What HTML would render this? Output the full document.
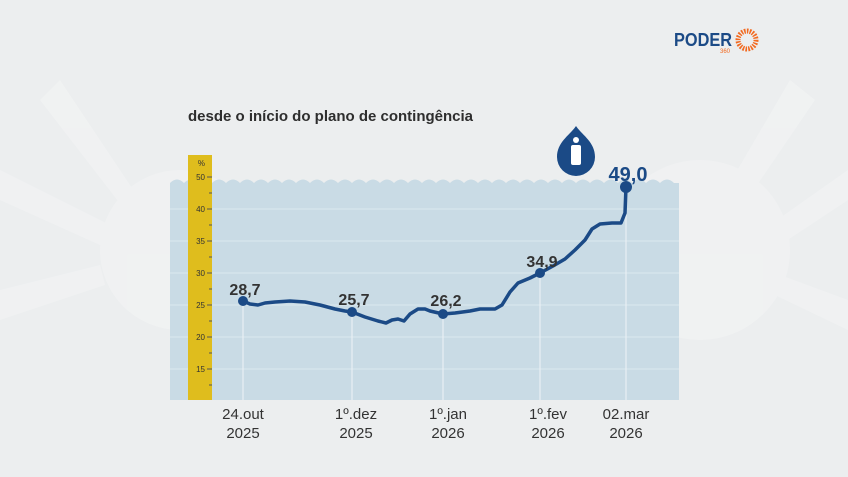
<!DOCTYPE html>
<html><head><meta charset="utf-8"><style>
html,body{margin:0;padding:0;background:#eceeef;}
svg{display:block;font-family:"Liberation Sans",Arial,sans-serif;}
</style></head><body>
<svg width="848" height="477" viewBox="0 0 848 477">
<rect width="848" height="477" fill="#eceeef"/>
<g fill="#f2f3f4" opacity="0.7">
<circle cx="180" cy="250" r="80"/>
<circle cx="700" cy="250" r="90"/>
<polygon points="0,170 110,225 100,245 0,200"/>
<polygon points="0,290 100,265 105,285 0,320"/>
<polygon points="60,80 140,200 125,210 40,100"/>
<polygon points="790,80 720,200 740,210 815,100"/>
<polygon points="848,170 770,225 780,245 848,200"/>
<polygon points="848,300 780,275 775,295 848,330"/>
</g>
<text x="188" y="121" font-size="15" font-weight="bold" fill="#2e2e2e">desde o início do plano de contingência</text>
<path d="M170,183 q7,-7 14,0 q7,-7 14,0 q7,-7 14,0 q7,-7 14,0 q7,-7 14,0 q7,-7 14,0 q7,-7 14,0 q7,-7 14,0 q7,-7 14,0 q7,-7 14,0 q7,-7 14,0 q7,-7 14,0 q7,-7 14,0 q7,-7 14,0 q7,-7 14,0 q7,-7 14,0 q7,-7 14,0 q7,-7 14,0 q7,-7 14,0 q7,-7 14,0 q7,-7 14,0 q7,-7 14,0 q7,-7 14,0 q7,-7 14,0 q7,-7 14,0 q7,-7 14,0 q7,-7 14,0 q7,-7 14,0 q7,-7 14,0 q7,-7 14,0 q7,-7 14,0 q7,-7 14,0 q7,-7 14,0 q7,-7 14,0 q7,-7 14,0 q7,-7 14,0 L679,183 L679,400 L170,400 Z" fill="#c9dbe5"/>
<g stroke="#dce8ef" stroke-width="1">
<line x1="170" y1="209" x2="679" y2="209"/><line x1="170" y1="241" x2="679" y2="241"/>
<line x1="170" y1="273" x2="679" y2="273"/><line x1="170" y1="305" x2="679" y2="305"/>
<line x1="170" y1="337" x2="679" y2="337"/><line x1="170" y1="369" x2="679" y2="369"/>
</g>
<g stroke="#eef3f6" stroke-width="1">
<line x1="243" y1="301" x2="243" y2="400"/><line x1="352" y1="312" x2="352" y2="400"/>
<line x1="443" y1="314" x2="443" y2="400"/><line x1="540" y1="273" x2="540" y2="400"/>
<line x1="626" y1="187" x2="626" y2="400"/>
</g>
<rect x="188" y="155" width="24" height="245" fill="#dfbd1d"/>
<g font-size="8" fill="#333" text-anchor="end">
<text x="205" y="166">%</text>
<text x="205" y="180">50</text><text x="205" y="212">40</text><text x="205" y="244">35</text>
<text x="205" y="276">30</text><text x="205" y="308">25</text><text x="205" y="340">20</text><text x="205" y="372">15</text>
</g>
<g stroke="#555" stroke-width="1">
<line x1="207" y1="177" x2="212" y2="177"/><line x1="207" y1="209" x2="212" y2="209"/><line x1="207" y1="241" x2="212" y2="241"/><line x1="207" y1="273" x2="212" y2="273"/><line x1="207" y1="305" x2="212" y2="305"/><line x1="207" y1="337" x2="212" y2="337"/><line x1="207" y1="369" x2="212" y2="369"/>
<line x1="209" y1="193" x2="212" y2="193"/><line x1="209" y1="225" x2="212" y2="225"/><line x1="209" y1="257" x2="212" y2="257"/><line x1="209" y1="289" x2="212" y2="289"/><line x1="209" y1="321" x2="212" y2="321"/><line x1="209" y1="353" x2="212" y2="353"/><line x1="209" y1="385" x2="212" y2="385"/>
</g>
<polyline fill="none" stroke="#1b4a86" stroke-width="3.5" stroke-linejoin="round" stroke-linecap="round"
points="243,301 250,304 258,305 265,303 275,302 290,301 305,302 320,305 335,309 345,311 352,312 365,317 378,321 386,323 392,320 398,319 404,321 410,314 418,309 425,309 430,311 443,314 455,313 470,311 480,309 495,309 502,305 510,292 518,283 530,278 540,273 553,266 565,259 575,250 585,240 592,229 600,224 612,223 621,223 625,213 626,187"/>
<g fill="#1b4a86">
<circle cx="243" cy="301" r="5"/><circle cx="352" cy="312" r="5"/><circle cx="443" cy="314" r="5"/><circle cx="540" cy="273" r="5"/><circle cx="626" cy="187" r="6"/>
</g>
<g font-size="16" font-weight="bold" fill="#333" text-anchor="middle">
<text x="245" y="295">28,7</text><text x="354" y="305">25,7</text><text x="446" y="306">26,2</text><text x="542" y="267">34,9</text>
<text x="628" y="181" font-size="20" fill="#1b4a86">49,0</text>
</g>
<path d="M576,126 C570,135 557,142 557,157 A19,19 0 0 0 595,157 C595,142 582,135 576,126 Z" fill="#1b4a86"/>
<circle cx="576" cy="140" r="3" fill="#fff"/>
<rect x="571" y="145" width="10" height="20" rx="2" fill="#fff"/>
<g font-size="15" fill="#333" text-anchor="middle">
<text x="243" y="419">24.out</text><text x="243" y="438">2025</text>
<text x="356" y="419">1º.dez</text><text x="356" y="438">2025</text>
<text x="448" y="419">1º.jan</text><text x="448" y="438">2026</text>
<text x="548" y="419">1º.fev</text><text x="548" y="438">2026</text>
<text x="626" y="419">02.mar</text><text x="626" y="438">2026</text>
</g>
<text x="674" y="46" font-size="18" font-weight="bold" fill="#1b4a86" textLength="58" lengthAdjust="spacingAndGlyphs">PODER</text>
<text x="720" y="53" font-size="6" fill="#f26a21">360</text>
<circle cx="747" cy="40" r="9" fill="none" stroke="#f26a21" stroke-width="5" stroke-dasharray="1.6 1.2"/>
</svg>
</body></html>
